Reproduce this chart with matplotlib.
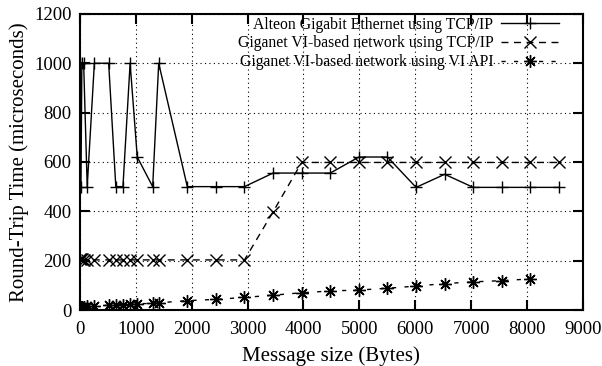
import matplotlib
matplotlib.use('Agg')
import matplotlib.pyplot as plt
import numpy as np

# message sizes (bytes)
sizes = [4, 16, 32, 64, 128, 256, 512, 640, 768, 896, 1024, 1300, 1408,
         1920, 2432, 2944, 3456, 3968, 4480, 4992, 5504, 6016, 6528,
         7040, 7552, 8064, 8576]

alteon_tcp = [1000, 500, 1000, 1000, 500, 1000, 1000, 500, 500, 1000, 620,
              500, 1000, 500, 500, 500, 555, 555, 555, 620, 620, 497, 550,
              497, 497, 497, 497]

giganet_tcp = [205, 205, 205, 204, 203, 203, 203, 203, 203, 203, 203, 203,
               203, 203, 203, 203, 398, 598, 598, 598, 598, 598, 598, 598,
               598, 598, 598]

sizes_vi = sizes[:-1]
giganet_vi = [10, 11, 12, 13, 15, 18, 19, 20, 22, 23, 25, 27, 29,
              38, 43, 51, 60, 70, 77, 81, 88, 97, 107, 114, 119, 126]

labels = ['Alteon Gigabit Ethernet using TCP/IP',
          'Giganet VI-based network using TCP/IP',
          'Giganet VI-based network using VI API']

plt.rcParams['font.family'] = ['Liberation Serif', 'DejaVu Serif']
plt.rcParams['font.size'] = 12

fig = plt.figure(figsize=(6.02, 3.66), dpi=100)
ax = fig.add_axes([0.133, 0.153, 0.835, 0.809])

ax.plot(sizes, alteon_tcp, color='k', lw=1.0, marker='+', ms=9, mew=1.0,
        label=labels[0])
ax.plot(sizes, giganet_tcp, color='k', lw=1.0, ls=(0, (5, 4)), marker='x',
        ms=8, mew=1.0, label=labels[1])
ax.plot(sizes_vi, giganet_vi, color='k', lw=1.0, ls=(0, (3, 6)),
        marker=(8, 2, 0), ms=9, mew=1.0, label=labels[2])

ax.set_xlim(0, 9000)
ax.set_ylim(0, 1200)
ax.set_xticks(np.arange(0, 9001, 1000))
ax.set_yticks(np.arange(0, 1201, 200))
ax.grid(True, ls=(0, (1, 3)), color='k', lw=0.8)

ax.tick_params(direction='in', length=7, width=1.5, top=True, right=True,
               labelsize=13.5)
ax.tick_params(axis='x', pad=8)
ax.tick_params(axis='y', pad=6)
for s in ax.spines.values():
    s.set_linewidth(1.5)

ax.set_xlabel('Message size (Bytes)', fontsize=15, labelpad=6)
ax.set_ylabel('Round-Trip Time (microseconds)', fontsize=15, labelpad=4)

leg = ax.legend(loc='upper right', bbox_to_anchor=(0.966, 1.012),
                frameon=False, markerfirst=False, fontsize=11.3,
                handlelength=3.7, handletextpad=0.5, borderaxespad=0,
                labelspacing=0.18)
for t in leg.get_texts():
    t.set_ha('right')

fig.savefig('out.png', dpi=100)
